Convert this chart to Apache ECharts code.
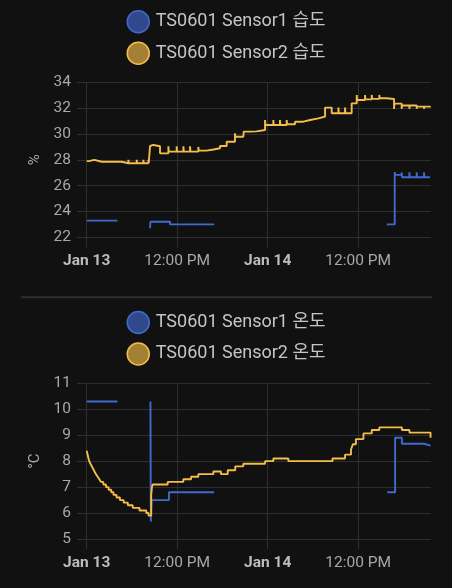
<!DOCTYPE html>
<html>
<head>
<meta charset="utf-8">
<script src="https://cdn.jsdelivr.net/npm/echarts@6/dist/echarts.min.js"></script>
<style>
html,body{margin:0;padding:0;background:#111111;}
#chart{width:452px;height:588px;}
</style>
</head>
<body>
<div id="chart"></div>
<script>
// Time values are hours after Jan 13 00:00
const axisMinHour = -1.29;
const axisMaxHour = 45.66;
const tickHours = [0, 12, 24, 36];
const tickLabels = ['Jan 13', '12:00 PM', 'Jan 14', '12:00 PM'];
const boldTicks = [true, false, true, false];

const humidityNames = ['TS0601 Sensor1 습도', 'TS0601 Sensor2 습도'];
const temperatureNames = ['TS0601 Sensor1 온도', 'TS0601 Sensor2 온도'];
const humidityTicks = [22, 24, 26, 28, 30, 32, 34];
const temperatureTicks = [5, 6, 7, 8, 9, 10, 11];

// Sensor1 humidity [hour, %]  (null = gap)
const humidity1 = [
  [0, 23.29], [4.07, 23.29], [4.1, null],
  [8.4, 22.7], [8.45, 23.2], [11.05, 23.0], [16.9, 23.0], [16.95, null],
  [39.8, 23.0], [40.85, 27.03], [40.95, 26.83],
  [41.77, 27.03], [41.82, 26.65], [42.79, 27.03], [42.84, 26.65],
  [43.76, 27.03], [43.81, 26.65], [44.73, 27.03], [44.78, 26.65], [45.53, 26.65]
];

// Sensor2 humidity [hour, %]
const humidity2 = [
  [0, 27.9], [0.3, 28.0], [1.0, 27.85],
  [2.0, 27.73], [2.05, 27.85], [2.87, 27.73], [2.92, 27.85], [3.75, 27.73], [3.8, 27.85],
  [4.64, 27.73],
  [5.52, 28.0], [5.57, 27.73], [6.63, 28.0], [6.68, 27.73], [7.51, 28.0], [7.56, 27.73],
  [8.17, 28.0], [8.22, 27.73],
  [8.4, 29.07], [8.5, 29.15], [8.84, 29.05], [9.72, 28.5],
  [10.83, 29.05], [10.88, 28.63], [11.93, 29.05], [11.98, 28.63], [12.82, 29.05], [12.87, 28.63],
  [13.7, 29.05], [13.75, 28.63], [14.8, 29.0], [14.85, 28.71],
  [15.91, 28.8], [16.8, 28.89], [17.68, 29.07], [18.56, 29.4],
  [19.66, 30.05], [19.71, 29.79], [20.77, 29.92], [20.82, 30.18],
  [21.66, 30.2], [22.54, 30.31],
  [23.65, 31.08], [23.7, 30.7], [24.75, 31.08], [24.8, 30.7], [25.63, 31.08], [25.68, 30.7],
  [26.52, 31.08], [26.57, 30.75],
  [27.63, 30.95], [28.73, 31.08], [29.62, 31.21], [30.72, 31.34],
  [31.61, 32.04], [32.49, 31.6], [33.38, 32.04], [33.43, 31.6], [34.26, 32.04], [34.31, 31.6],
  [35.14, 32.37],
  [35.81, 33.02], [35.86, 32.63], [36.91, 33.02], [36.96, 32.68], [37.8, 33.02], [37.85, 32.72],
  [38.81, 33.02], [38.86, 32.76], [39.78, 32.71],
  [40.76, 31.93], [40.81, 32.35], [41.77, 31.95], [41.82, 32.2], [42.79, 31.95], [42.84, 32.2],
  [43.76, 31.95], [43.81, 32.12], [44.73, 31.95], [44.78, 32.12], [45.53, 32.04]
];

// Sensor1 temperature [hour, °C]
const temperature1 = [
  [0, 10.3], [4.07, 10.3], [4.1, null],
  [8.45, 10.3], [8.5, 5.67], [8.6, 6.5], [10.9, 6.8], [16.9, 6.8], [16.95, null],
  [39.87, 6.8], [40.9, 8.9], [41.8, 8.67], [44.73, 8.6], [45.6, 8.6]
];

// Sensor2 temperature [hour, °C]
const temperature2 = [
  [0, 8.4], [0.08, 8.3], [0.16, 8.2], [0.24, 8.1], [0.33, 8.0], [0.5, 7.9], [0.68, 7.8],
  [0.86, 7.7], [1.03, 7.6], [1.22, 7.5], [1.45, 7.4], [1.68, 7.3], [1.9, 7.2], [2.2, 7.1],
  [2.55, 7.0], [2.9, 6.9], [3.25, 6.8], [3.55, 6.7], [3.95, 6.6], [4.4, 6.5], [4.9, 6.4],
  [5.45, 6.3], [6.1, 6.2], [7.0, 6.1], [7.9, 6.0], [8.2, 5.9],
  [8.55, 6.7], [8.65, 7.0], [8.75, 7.1], [10.74, 7.2], [12.81, 7.3], [13.84, 7.4], [14.8, 7.5],
  [16.8, 7.6], [17.8, 7.5], [18.7, 7.65], [19.7, 7.8], [20.77, 7.9], [23.65, 8.0], [24.75, 8.1],
  [26.74, 8.0], [32.6, 8.1], [34.26, 8.25], [35.05, 8.45], [35.3, 8.65], [35.7, 8.85],
  [36.7, 9.07], [37.8, 9.2], [38.8, 9.3], [41.8, 9.2], [42.8, 9.1], [45.6, 8.9]
];

const BLUE = '#4269d0';
const YELLOW = '#f4bd4a';
const GRID = '#2e2e2e';
const FONT = 'Roboto, "Noto Sans CJK KR", sans-serif';

const toSeries = arr => arr.map(p => [p[0], p[1] === null ? '-' : p[1]]);

function xLabelFormatter(value) {
  const i = tickHours.indexOf(value);
  if (i < 0) return '';
  return (boldTicks[i] ? '{b|' : '{n|') + tickLabels[i] + '}';
}

function makeXAxis(gridIndex) {
  return {
    type: 'value',
    gridIndex: gridIndex,
    min: axisMinHour,
    max: axisMaxHour,
    axisLine: { show: false },
    axisTick: { show: true, length: 10, lineStyle: { color: GRID, width: 1 }, customValues: tickHours },
    splitLine: { show: true, lineStyle: { color: GRID, width: 1 } },
    axisLabel: {
      customValues: tickHours,
      formatter: xLabelFormatter,
      margin: 16,
      rich: {
        b: { fontFamily: FONT, fontSize: 15.5, fontWeight: 'bold', color: '#bdbdbd' },
        n: { fontFamily: FONT, fontSize: 15.5, color: '#a8a8a8' }
      }
    }
  };
}

function makeYAxis(gridIndex, ticks, name) {
  return {
    type: 'value',
    gridIndex: gridIndex,
    min: ticks[0],
    max: ticks[ticks.length - 1],
    interval: ticks[1] - ticks[0],
    name: name,
    nameLocation: 'middle',
    nameGap: 33,
    nameTextStyle: { color: '#a8a8a8', fontFamily: FONT, fontSize: 15 },
    axisLine: { show: false },
    axisTick: { show: false },
    splitLine: { show: true, lineStyle: { color: GRID, width: 1 } },
    axisLabel: { color: '#a8a8a8', fontFamily: FONT, fontSize: 15.5, margin: 6 }
  };
}

function legendItem(name, color, fill) {
  return { name: name, itemStyle: { color: fill, borderColor: color, borderWidth: 1.5 } };
}

function makeLegend(top, names) {
  return {
    orient: 'vertical',
    left: 'center',
    top: top,
    icon: 'circle',
    itemWidth: 25,
    itemHeight: 22,
    itemGap: 8,
    textStyle: { color: '#c5c5c5', fontFamily: FONT, fontSize: 18 },
    data: [
      legendItem(names[0], BLUE, 'rgba(66,105,208,0.65)'),
      legendItem(names[1], YELLOW, 'rgba(244,189,74,0.65)')
    ],
    selectedMode: false
  };
}

function makeSeries(name, data, color, axisIndex) {
  return {
    name: name,
    type: 'line',
    step: 'end',
    xAxisIndex: axisIndex,
    yAxisIndex: axisIndex,
    data: toSeries(data),
    showSymbol: false,
    symbol: 'none',
    connectNulls: false,
    color: color,
    lineStyle: { color: color, width: 1.9 },
    emphasis: { disabled: true }
  };
}

const chart = echarts.init(document.getElementById('chart'), null, { renderer: 'canvas' });
chart.setOption({
  backgroundColor: '#111111',
  animation: false,
  legend: [makeLegend(5, humidityNames), makeLegend(305.7, temperatureNames)],
  grid: [
    { left: 77, right: 21, top: 82.3, height: 155 },
    { left: 77, right: 21, top: 383.3, height: 155.7 }
  ],
  xAxis: [makeXAxis(0), makeXAxis(1)],
  yAxis: [makeYAxis(0, humidityTicks, '%'), makeYAxis(1, temperatureTicks, '°C')],
  graphic: [{
    type: 'line',
    shape: { x1: 21, y1: 297.3, x2: 432, y2: 297.3 },
    style: { stroke: '#2e2e2e', lineWidth: 2 },
    silent: true
  }],
  series: [
    makeSeries(humidityNames[0], humidity1, BLUE, 0),
    makeSeries(humidityNames[1], humidity2, YELLOW, 0),
    makeSeries(temperatureNames[0], temperature1, BLUE, 1),
    makeSeries(temperatureNames[1], temperature2, YELLOW, 1)
  ]
});
</script>
</body>
</html>
